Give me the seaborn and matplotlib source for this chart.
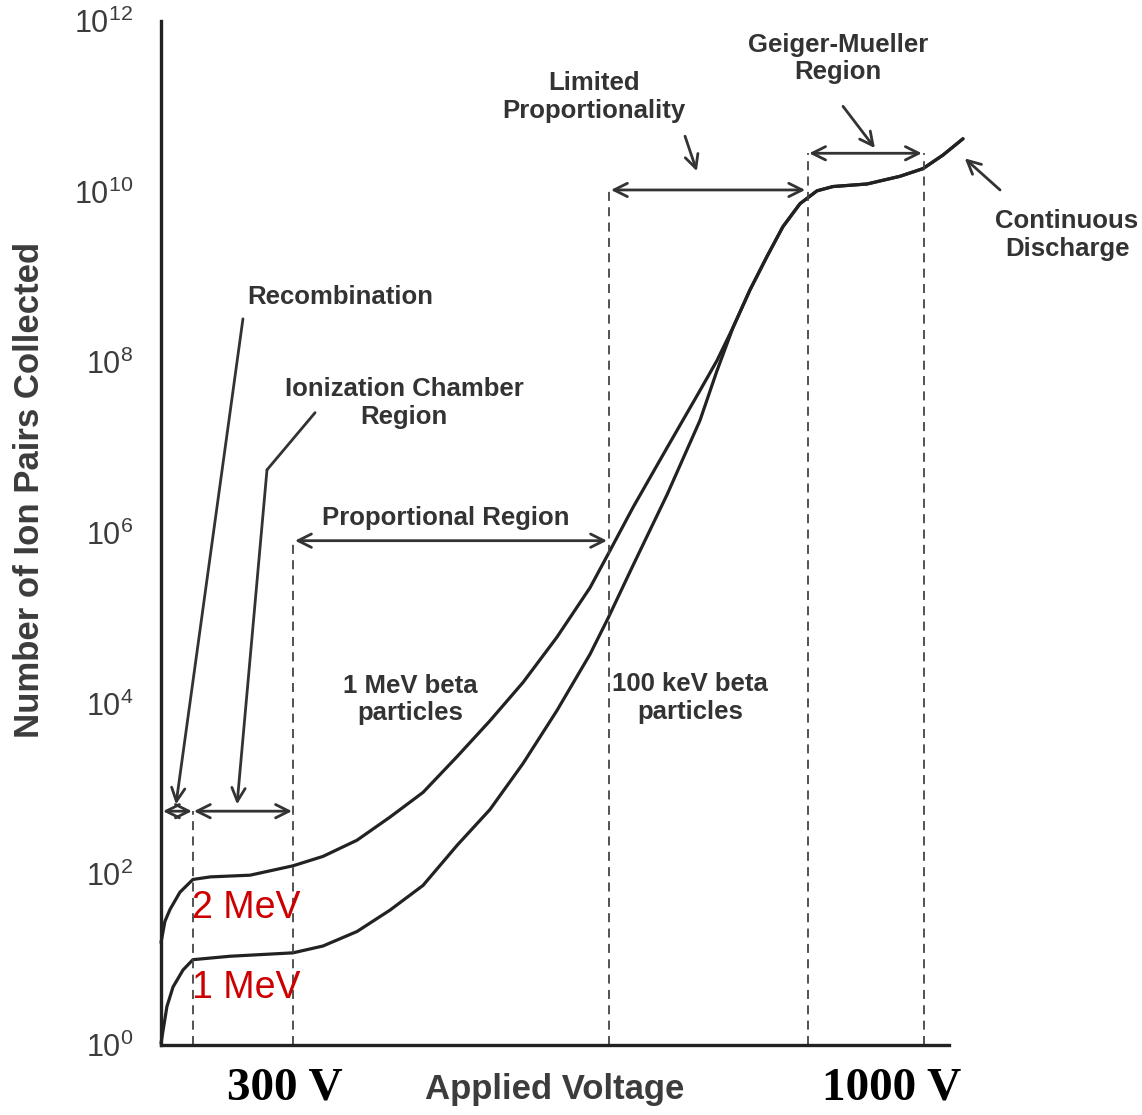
import numpy as np
import matplotlib
matplotlib.use("Agg")
import matplotlib.pyplot as plt
import seaborn as sns

# x in axis units (0..4, one unit per x tick), y as log10(ion pairs)
voltage_2mev = [0.0, 0.02, 0.046, 0.096, 0.162, 0.25, 0.452, 0.670, 0.822, 0.995,
                1.162, 1.330, 1.503, 1.670, 1.838, 2.010, 2.178, 2.269, 2.396, 2.569,
                2.736, 2.822, 2.904, 2.990, 3.076, 3.157, 3.244, 3.330, 3.411, 3.584,
                3.751, 3.868, 3.970, 4.071]
logpairs_2mev = [1.20, 1.45, 1.59, 1.79, 1.94, 1.97, 1.99, 2.10, 2.21, 2.40,
                 2.67, 2.96, 3.38, 3.80, 4.25, 4.78, 5.36, 5.75, 6.30, 7.00,
                 7.67, 8.02, 8.41, 8.85, 9.24, 9.59, 9.86, 10.01, 10.06, 10.09,
                 10.18, 10.27, 10.43, 10.62]

voltage_1mev = [0.0, 0.03, 0.061, 0.112, 0.162, 0.35, 0.670, 0.822, 0.995, 1.162,
                1.330, 1.503, 1.670, 1.838, 2.010, 2.178, 2.269, 2.396, 2.569, 2.736,
                2.822, 2.904, 2.990, 3.076, 3.157, 3.244, 3.330, 3.411, 3.584, 3.751,
                3.868, 3.970, 4.071]
logpairs_1mev = [0.02, 0.45, 0.68, 0.88, 1.00, 1.04, 1.08, 1.16, 1.33, 1.58,
                 1.87, 2.34, 2.76, 3.30, 3.92, 4.58, 5.00, 5.62, 6.45, 7.32,
                 7.90, 8.41, 8.85, 9.24, 9.59, 9.86, 10.01, 10.06, 10.09, 10.18,
                 10.27, 10.43, 10.62]

# region boundaries (dashed verticals) and how high they reach
boundary_x = [0.162, 0.670, 2.274, 3.284, 3.873]
boundary_top = [2.74, 5.91, 10.02, 10.45, 10.45]

ytick_exp = [0, 2, 4, 6, 8, 10, 12]
xticks = [1, 2, 3, 4]

INK = "#222222"
TXT = "#333333"

sns.set_style("white")
plt.rcParams["font.family"] = ["Liberation Sans", "DejaVu Sans"]
plt.rcParams["mathtext.default"] = "regular"

fig = plt.figure(figsize=(11.42, 11.15), dpi=100)
ax = fig.add_axes([161 / 1142, 1 - 1045 / 1115, 788 / 1142, 1024 / 1115])

for xs, ls in [(voltage_2mev, logpairs_2mev), (voltage_1mev, logpairs_1mev)]:
    sns.lineplot(x=xs, y=np.power(10.0, ls), ax=ax, color=INK, lw=2.3,
                 estimator=None, sort=False, clip_on=False)

ax.set_yscale("log")
ax.set_xlim(0, 4)
ax.set_ylim(1, 1e12)

for bx, bt in zip(boundary_x, boundary_top):
    ax.plot([bx, bx], [1, 10 ** bt], color="#444444", lw=1.3,
            linestyle=(0, (5, 3.5)), clip_on=False)

ax.set_yticks([10.0 ** e for e in ytick_exp])
ax.set_yticklabels([f"$10^{{{e}}}$" for e in ytick_exp])
ax.yaxis.set_minor_locator(matplotlib.ticker.NullLocator())
ax.set_xticks(xticks)
ax.set_xticklabels([])
ax.tick_params(axis="y", direction="in", length=11, width=2.2, color=INK,
               labelsize=22, labelcolor="#3c3c3c", pad=20)
ax.tick_params(axis="x", direction="in", length=13, width=2.2, color=INK)

sns.despine(ax=ax)
for side in ["left", "bottom"]:
    ax.spines[side].set_linewidth(2.4)
    ax.spines[side].set_color(INK)

L = 10.0


def P(x, e):
    return (x, L ** e)


dbl = dict(arrowstyle="<->", lw=2.0, color=TXT, mutation_scale=24,
           shrinkA=0, shrinkB=0)
one = dict(arrowstyle="->", lw=2.0, color=TXT, mutation_scale=24,
           shrinkA=0, shrinkB=0)

# region spans
ax.annotate("", xy=P(0.01, 2.74), xytext=P(0.157, 2.74), arrowprops=dbl)
ax.annotate("", xy=P(0.167, 2.74), xytext=P(0.665, 2.74), arrowprops=dbl)
ax.annotate("", xy=P(0.68, 5.91), xytext=P(2.264, 5.91), arrowprops=dbl)
ax.annotate("", xy=P(2.284, 10.02), xytext=P(3.27, 10.02), arrowprops=dbl,
            annotation_clip=False)
ax.annotate("", xy=P(3.29, 10.45), xytext=P(3.862, 10.45), arrowprops=dbl,
            annotation_clip=False)

# leaders
ax.annotate("", xy=P(0.076, 2.82), xytext=P(0.416, 8.51), arrowprops=one)
ax.plot([0.782, 0.538], [L ** 7.41, L ** 6.74], color=TXT, lw=2.0)
ax.annotate("", xy=P(0.386, 2.82), xytext=P(0.538, 6.74), arrowprops=one)
ax.annotate("", xy=P(2.72, 10.24), xytext=P(2.66, 10.65), arrowprops=one,
            annotation_clip=False)
ax.annotate("", xy=P(3.624, 10.51), xytext=P(3.462, 11.0), arrowprops=one,
            annotation_clip=False)
ax.annotate("", xy=P(4.08, 10.39), xytext=P(4.259, 10.02), arrowprops=one,
            annotation_clip=False)

lab = dict(fontsize=18.5, fontweight="bold", color=TXT, ha="center", va="center",
           linespacing=1.2, clip_on=False)
ax.text(0.909, L ** 8.76, "Recombination", **lab)
ax.text(1.234, L ** 7.52, "Ionization Chamber\nRegion", **lab)
ax.text(1.447, L ** 6.18, "Proportional Region", **lab)
ax.text(1.264, L ** 4.05, "1 MeV beta\nparticles", **lab)
ax.text(2.685, L ** 4.07, "100 keV beta\nparticles", **lab)
ax.text(2.198, L ** 11.11, "Limited\nProportionality", **lab)
ax.text(3.437, L ** 11.56, "Geiger-Mueller\nRegion", **lab)
ax.text(4.599, L ** 9.49, "Continuous\nDischarge", **lab)

ax.text(0.158, L ** 1.61, "2 MeV", fontsize=27, color="#cc0000", ha="left", va="center")
ax.text(0.158, L ** 0.67, "1 MeV", fontsize=27, color="#cc0000", ha="left", va="center")

fig.text(555 / 1142, 1 - 1090 / 1115, "Applied Voltage", fontsize=25, fontweight="bold",
         color="#3c3c3c", ha="center", va="center")
fig.text(30 / 1142, 1 - 490 / 1115, "Number of Ion Pairs Collected", fontsize=25,
         fontweight="bold", color="#3c3c3c", ha="center", va="center", rotation=90)
fig.text(285 / 1142, 1 - 1088 / 1115, "300 V", fontsize=34, fontweight="bold",
         family="Liberation Serif", color="black", ha="center", va="center")
fig.text(892 / 1142, 1 - 1088 / 1115, "1000 V", fontsize=34, fontweight="bold",
         family="Liberation Serif", color="black", ha="center", va="center")

fig.savefig("out.png", dpi=100, facecolor="white")
